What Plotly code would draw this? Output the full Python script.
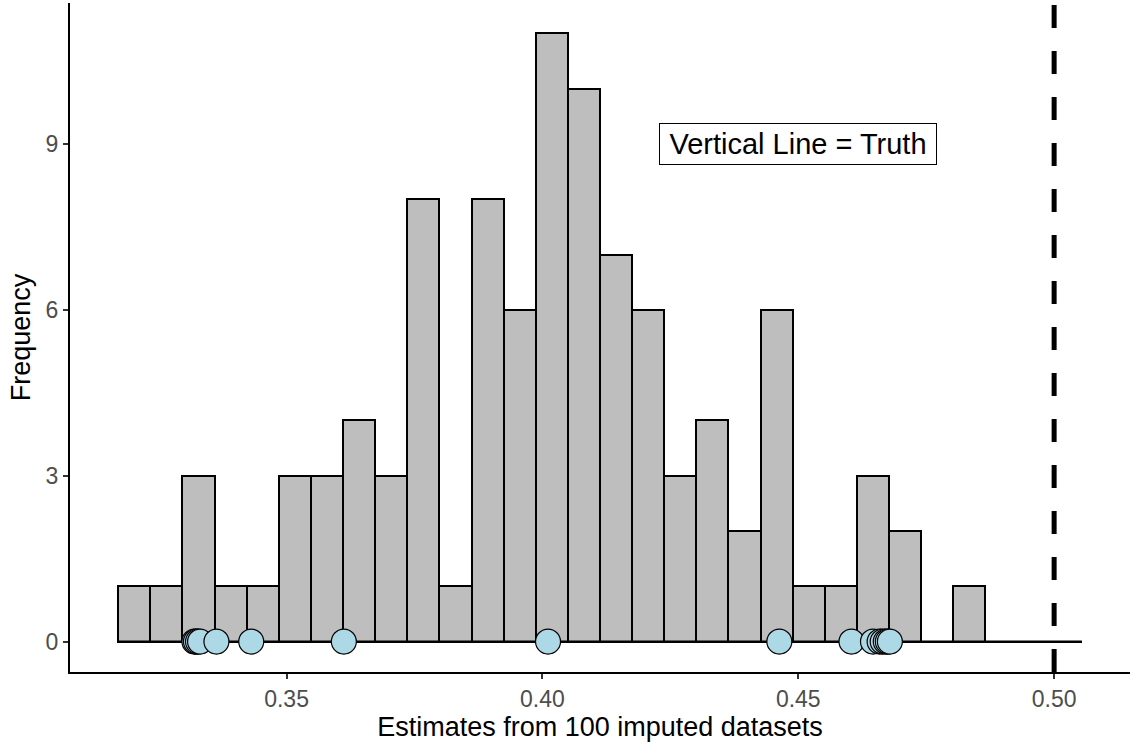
import plotly.graph_objects as go
import numpy as np

# Histogram data (30 bins)
bin_start = 0.3171
bin_width = 0.006277
counts = [1, 1, 3, 1, 1, 3, 3, 4, 3, 8, 1, 8, 6, 11, 10, 7, 6, 3, 4, 2, 6, 1, 1, 3, 2, 0, 1, 0, 0, 0]

# Highlighted estimates (dots at zero)
dot_values = [0.3320, 0.3323, 0.3327, 0.3331, 0.3363, 0.3431, 0.3612, 0.4011,
              0.4463, 0.4604, 0.4646, 0.4659, 0.4665, 0.4671, 0.4675, 0.4679]

truth = 0.5
x_ticks = [0.35, 0.40, 0.45, 0.50]
x_tick_labels = ["0.35", "0.40", "0.45", "0.50"]
y_ticks = [0, 3, 6, 9]

n = len(counts)
edges = bin_start + bin_width * np.arange(n + 1)
centers = (edges[:-1] + edges[1:]) / 2

xmin, xmax = edges[0], edges[-1]
xpad = (xmax - xmin) * 0.05
ymax = max(counts)
ypad = ymax * 0.05

FONT = "Liberation Sans, Arial, sans-serif"

fig = go.Figure()

# baseline for zero-height bins
fig.add_trace(go.Scatter(x=[xmin, xmax], y=[0, 0], mode="lines",
                         line=dict(color="black", width=2), hoverinfo="skip",
                         showlegend=False))

fig.add_trace(go.Bar(x=centers, y=counts, width=bin_width,
                     marker=dict(color="#BEBEBE", line=dict(color="black", width=2)),
                     showlegend=False))

fig.add_trace(go.Scatter(x=dot_values, y=[0] * len(dot_values), mode="markers",
                         marker=dict(size=25, color="#ADD8E6",
                                     line=dict(color="black", width=1.2)),
                         showlegend=False, cliponaxis=False))

fig.add_shape(type="line", xref="x", yref="paper", x0=truth, x1=truth, y0=0, y1=1,
              line=dict(color="black", width=5, dash="23px,23px"))

fig.add_annotation(x=0.45, y=9, text="Vertical Line = Truth", showarrow=False,
                   font=dict(family=FONT, size=29, color="black"),
                   width=268, align="center",
                   bgcolor="white", bordercolor="black", borderwidth=1, borderpad=4)

fig.update_layout(
    width=1130, height=744,
    margin=dict(l=70, r=0, t=3, b=72),
    paper_bgcolor="white", plot_bgcolor="white",
    bargap=0,
    font=dict(family=FONT, color="black"),
    xaxis=dict(range=[xmin - xpad, xmax + xpad], tickvals=x_ticks, ticktext=x_tick_labels,
               showgrid=False, zeroline=False, showline=True, linecolor="black", linewidth=2,
               ticks="outside", ticklen=5, tickwidth=2, tickcolor="#333333",
               tickfont=dict(size=23, color="#4D4D4D"),
               title=dict(text="Estimates from 100 imputed datasets", font=dict(size=27, color="black"),
                          standoff=6)),
    yaxis=dict(range=[-ypad, ymax + ypad], tickvals=y_ticks,
               showgrid=False, zeroline=False, showline=True, linecolor="black", linewidth=2,
               ticks="outside", ticklen=5, tickwidth=2, tickcolor="#333333",
               tickfont=dict(size=23, color="#4D4D4D"),
               title=dict(text="Frequency", font=dict(size=27, color="black"), standoff=7)),
)

fig.write_html("out.html", config={"displayModeBar": False},
               post_script="document.body.style.margin='0';document.body.style.overflow='hidden';")
